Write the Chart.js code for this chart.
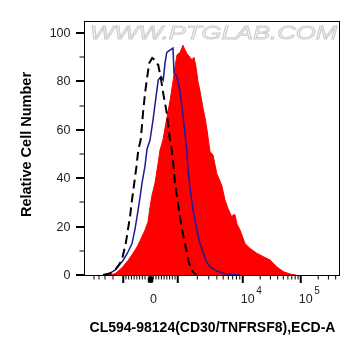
<!DOCTYPE html>
<html>
<head>
<meta charset="utf-8">
<script src="https://cdn.jsdelivr.net/npm/chart.js@4"></script>
<style>html,body{margin:0;padding:0;background:#fff;}canvas{display:block;}</style>
</head>
<body>
<canvas id="c" width="361" height="356"></canvas>
<script>
// ---- data (x in display channels 0..1024, y in % of max) ----
const redX   = [96,124,152,176,196,212,228,244,256,264,272,284,296,304,316,328,344,356,364,372,384,396,404,412,424,432,440,448,456,464,476,484,492,504,516,531,551,564,576,591,598,604,612,624,644,664,691,717,744,771,797,824,848];
const redY   = [0,0.5,3,6,9,11.6,15,18.6,22,28,33,38,46,51.6,56,63,72,80,86,91,92,95,93,91.5,90,89,90,86,80,76,69,65,60,51,49.6,42,37,31,27.5,24,25,24.8,21,18.6,13,11,9,7.6,6.2,3.4,1.4,0.4,0];
const blueX  = [80,104,124,140,156,176,192,204,212,224,232,244,252,264,276,291,297,308,317,324,331,344,356,360,371,384,397,411,416,424,436,451,464,477,490,504,528,557,592,624];
const blueY  = [0,0.8,2,4,6,9.5,13,19,24,32,38,45,52,55.8,64,76,80.6,82,80.6,87.6,92,93,93.8,83.5,82,76,65,51.6,44,36,27,18.6,13,9,5.5,3.4,1.8,0.7,0.2,0];
const blackX = [76,104,124,138,151,167,176,184,192,201,210,217,227,237,244,251,261,273,282,288,297,308,317,331,344,351,358,364,374,384,394,404,417,431,440,452];
const blackY = [0,0.6,2,4,6,13,19,24,31,38,45,51.6,56,68,75,80.6,87.6,89.7,89,88,86.8,81,75,67,55.8,51.6,45,38,31,24,18,13,6,2,0.8,0];

const yMajorTicks = [0,20,40,60,80,100];
const yMinorTicks = [10,30,50,70,90];
const xMajorTickValues = [-1000,0,1000,10000,100000];
const xMinorTickValues = [-900,-800,-700,-600,-500,-400,-300,-200,100,200,300,400,500,600,700,800,900,
  2000,3000,4000,5000,6000,7000,8000,9000,20000,30000,40000,50000,60000,70000,80000,90000,200000,300000,400000];
const xMinorNegChannels = [40,60,84,116];
const xTickLabels = [{v:0, base:'0', exp:''},{v:10000, base:'10', exp:'4'},{v:100000, base:'10', exp:'5'}];
const xTitle = 'CL594-98124(CD30/TNFRSF8),ECD-A';
const yTitle = 'Relative Cell Number';
const watermark = 'WWW.PTGLAB.COM';

// biexponential-like display transform (value -> channel)
function chan(v){
  if (Math.abs(v) <= 1000) return 266 + v*0.109;
  if (v > 1000 && v <= 10000) return 375 + Math.log10(v/1000)*260;
  if (v > 10000) return 635 + Math.log10(v/10000)*232;
  return 155 - Math.log10(-v/1000)*60;
}

const pts = (xs, ys) => xs.map((x,i)=>({x:x, y:ys[i]}));
const FONT = '"Liberation Sans", Arial, Helvetica, sans-serif';

const axesPlugin = {
  id:'axesPlugin',
  beforeDatasetsDraw(chart){
    const {ctx} = chart;
    ctx.save();
    ctx.font = 'italic 19px ' + FONT;
    const w = ctx.measureText(watermark).width;
    const sx = 247 / w;
    ctx.translate(90, 38.5);
    ctx.scale(sx, 1);
    ctx.textAlign = 'left'; ctx.textBaseline = 'alphabetic';
    ctx.fillStyle = '#f6f6f6';
    ctx.fillText(watermark, 0, 0);
    ctx.strokeStyle = '#cdcdcd'; ctx.lineWidth = 0.9;
    ctx.strokeText(watermark, 0, 0);
    ctx.restore();
  },
  afterDraw(chart){
    const {ctx, chartArea:a, scales:{x,y}} = chart;
    ctx.save();
    ctx.strokeStyle = '#000'; ctx.fillStyle = '#000';
    // frame
    ctx.lineWidth = 1;
    ctx.strokeRect(a.left+0.5, a.top+0.5, a.right-a.left-1, a.bottom-a.top);
    // y ticks
    yMajorTicks.forEach(v=>{
      const py = Math.round(y.getPixelForValue(v));
      ctx.fillRect(a.left-8, py-1, 8, 2);
    });
    yMinorTicks.forEach(v=>{
      const py = Math.round(y.getPixelForValue(v));
      ctx.fillRect(a.left-4.5, py-0.5, 4.5, 1);
    });
    ctx.fillStyle = '#222';
    ctx.font = '12.5px ' + FONT;
    ctx.textAlign = 'right'; ctx.textBaseline = 'middle';
    yMajorTicks.forEach(v=>{
      ctx.fillText(String(v), a.left-13.5, y.getPixelForValue(v)+0.5);
    });
    // x ticks
    ctx.fillStyle = '#000';
    const b = a.bottom;
    xMajorTickValues.forEach(v=>{
      const px = x.getPixelForValue(chan(v));
      ctx.fillRect(px-1, b, 2, 8);
    });
    xMinorTickValues.forEach(v=>{
      const c = chan(v);
      if (c > 1024) return;
      const px = x.getPixelForValue(c);
      ctx.fillRect(px-0.5, b, 1, 4.5);
    });
    xMinorNegChannels.forEach(c=>{
      const px = x.getPixelForValue(c);
      ctx.fillRect(px-0.5, b, 1, 4.5);
    });
    // dense block around zero
    const z0 = x.getPixelForValue(chan(-100)), z1 = x.getPixelForValue(chan(100));
    ctx.fillRect(z0, b+1.5, z1-z0, 6);
    // x tick labels
    ctx.fillStyle = '#222';
    ctx.textBaseline = 'alphabetic';
    xTickLabels.forEach(t=>{
      const px = x.getPixelForValue(chan(t.v));
      if (!t.exp){
        ctx.font = '12.5px ' + FONT; ctx.textAlign='center';
        ctx.fillText(t.base, px+3, 302.5);
      } else {
        ctx.font = '12.5px ' + FONT; ctx.textAlign='left';
        ctx.fillText(t.base, px-2, 302.5);
        const bw = ctx.measureText(t.base).width;
        ctx.font = '10px ' + FONT;
        ctx.fillText(t.exp, px-2+bw+1.5, 294);
      }
    });
    // titles
    ctx.fillStyle = '#000';
    ctx.font = 'bold 14px ' + FONT;
    ctx.textAlign = 'center'; ctx.textBaseline = 'middle';
    ctx.fillText(xTitle, 212.5, 328);
    ctx.save();
    ctx.translate(27, 144.5);
    ctx.rotate(-Math.PI/2);
    ctx.font = 'bold 14.5px ' + FONT;
    ctx.fillText(yTitle, 0, 0);
    ctx.restore();
    ctx.restore();
  }
};

new Chart(document.getElementById('c'), {
  type: 'line',
  data: {
    datasets: [
      { label:'isotype', data: pts(blackX, blackY), borderColor:'#000', borderWidth:2, borderDash:[9,5], pointRadius:0, fill:false, tension:0 },
      { label:'unstained', data: pts(blueX, blueY), borderColor:'#1a1a9a', borderWidth:1.5, pointRadius:0, fill:false, tension:0 },
      { label:'CD30', data: pts(redX, redY), borderColor:'#ff0000', backgroundColor:'#ff0000', borderWidth:1, pointRadius:0, fill:'origin', tension:0 }
    ]
  },
  options: {
    responsive:false, animation:false, devicePixelRatio:1,
    layout:{ padding:{ left:84, right:21, top:21, bottom:81 } },
    plugins:{ legend:{display:false}, tooltip:{enabled:false} },
    scales:{
      x:{ type:'linear', min:0, max:1024, display:false },
      y:{ min:0, max:105, display:false }
    }
  },
  plugins:[axesPlugin]
});
</script>
</body>
</html>
